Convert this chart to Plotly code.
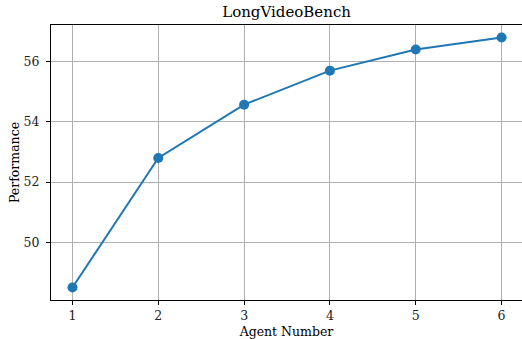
import plotly.graph_objects as go

agents = [1, 2, 3, 4, 5, 6]
performance = [48.5, 52.8, 54.57, 55.7, 56.4, 56.8]
x_ticks = [1, 2, 3, 4, 5, 6]
y_ticks = [50, 52, 54, 56]

font = "DejaVu Serif"

fig = go.Figure()
fig.add_trace(go.Scatter(
    x=agents, y=performance, mode="lines+markers",
    line=dict(color="#1f77b4", width=2),
    marker=dict(color="#1f77b4", size=10),
    showlegend=False,
))

fig.update_layout(
    width=522, height=339,
    margin=dict(l=51, r=0, t=25, b=39),
    plot_bgcolor="white", paper_bgcolor="white",
    font=dict(family=font, size=12.5, color="#222"),
    title=dict(text="LongVideoBench", x=0.549, xanchor="center", y=0.965, yanchor="middle",
               font=dict(family=font, size=15, color="black")),
    xaxis=dict(
        range=[0.75, 6.238], tickvals=x_ticks, ticktext=[str(v) for v in x_ticks],
        showgrid=True, gridcolor="#b0b0b0", gridwidth=1,
        showline=True, linecolor="black", linewidth=1.2, mirror=True,
        ticks="outside", ticklen=4, tickcolor="black",
        zeroline=False, automargin=False,
        title=dict(text="Agent Number", font=dict(family=font, size=12.5, color="black"), standoff=7),
    ),
    yaxis=dict(
        range=[48.085, 57.215], tickvals=y_ticks, ticktext=[str(v) for v in y_ticks],
        showgrid=True, gridcolor="#b0b0b0", gridwidth=1,
        showline=True, linecolor="black", linewidth=1.2,
        ticks="outside", ticklen=4, tickcolor="black", ticklabelstandoff=4,
        zeroline=False, automargin=False,
        title=dict(text="Performance", font=dict(family=font, size=12.5, color="black"), standoff=1),
    ),
)

fig.write_html("out.html", config={"displayModeBar": False},
               post_script="document.body.style.margin='0';document.body.style.overflow='hidden';")
